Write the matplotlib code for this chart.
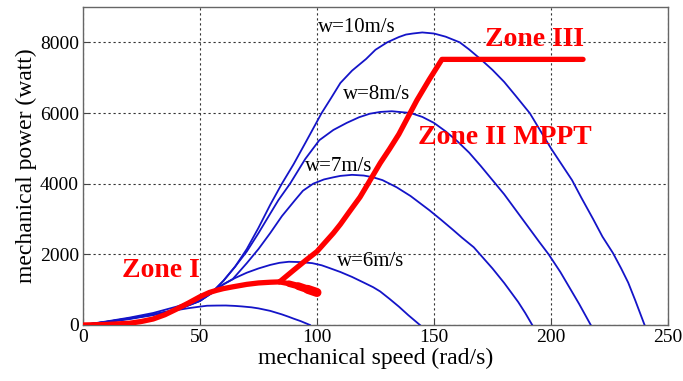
import matplotlib
matplotlib.use('Agg')
import matplotlib.pyplot as plt
import numpy as np
from matplotlib.collections import LineCollection

# 风速曲线数据 (rad/s, watt)
w5_x = [0, 10, 20, 30, 40, 45, 50, 53, 57, 61, 65, 68, 72, 75, 80, 83, 85, 88, 90, 93, 97]
w5_y = [0, 90, 190, 300, 420, 475, 520, 545, 550, 552, 540, 525, 500, 470, 400, 340, 300, 230, 180, 110, 0]

w6_x = [0, 10, 20, 30, 40, 45, 50, 55, 60, 65, 70, 75, 80, 84, 88, 93, 98, 102, 105, 110, 115, 120, 124, 127, 131,
        135, 139, 144]
w6_y = [0, 100, 210, 340, 520, 630, 760, 950, 1150, 1330, 1480, 1600, 1700, 1760, 1790, 1780, 1750, 1690, 1620, 1500,
        1360, 1200, 1070, 950, 740, 520, 280, 0]

w7_x = [0, 10, 20, 30, 40, 50, 55, 60, 64, 70, 75, 80, 85, 90.6, 94, 98.4, 103, 107, 110, 115, 120, 124, 128, 134,
        140, 144, 148, 153, 158, 162, 167, 171, 175, 180, 183, 186, 189, 192]
w7_y = [0, 90, 190, 300, 440, 690, 900, 1150, 1300, 1750, 2150, 2600, 3080, 3533, 3800, 4000, 4120, 4180, 4220, 4250,
        4230, 4180, 4100, 3900, 3650, 3450, 3250, 2980, 2700, 2470, 2200, 1900, 1600, 1190, 920, 650, 340, 0]

w8_x = [0, 10, 20, 30, 40, 50, 55, 60, 65, 70, 75, 80, 83.5, 88.5, 95, 101, 107, 112.7, 118, 122.6, 127, 132, 140,
        145, 150, 155, 160, 165, 170, 175, 180, 185, 190, 195, 199, 204, 208, 212, 217]
w8_y = [0, 85, 180, 290, 430, 680, 920, 1250, 1650, 2080, 2600, 3150, 3533, 4000, 4700, 5230, 5520, 5720, 5880, 5980,
        6030, 6050, 6000, 5890, 5720, 5480, 5200, 4880, 4500, 4100, 3700, 3250, 2800, 2350, 2000, 1500, 1050, 600, 0]

w10_x = [0, 10, 20, 30, 40, 50, 55, 60, 65, 70, 75, 80, 85, 90, 95, 102, 106, 110, 115, 121, 125, 130, 135, 138, 141,
         145, 150, 155, 161, 165, 170, 175, 180, 185, 191, 195, 200, 205, 209, 213, 218, 222, 226.5, 230, 233, 236, 240]
w10_y = [0, 80, 170, 280, 420, 680, 900, 1250, 1650, 2150, 2750, 3400, 4000, 4550, 5150, 6000, 6420, 6850, 7200, 7530,
         7790, 8000, 8150, 8220, 8250, 8280, 8250, 8160, 8000, 7800, 7520, 7220, 6880, 6480, 5990, 5550, 5000, 4500,
         4100, 3600, 3000, 2500, 2035, 1600, 1200, 700, 0]

# 红线：Zone I 与 Zone II/III
zone1_x = [0, 10, 20, 25, 30, 35, 40, 45, 50, 54, 57, 60, 64, 70, 75, 80, 84]
zone1_y = [0, 15, 50, 100, 170, 290, 450, 620, 800, 920, 980, 1030, 1080, 1150, 1190, 1210, 1220]
tail_x = [84, 88, 92, 96, 100]
tail_y = [1220, 1170, 1100, 1010, 920]
zone2_x = [84, 90, 95, 100, 107, 110, 114, 118.4, 122, 127, 131, 135, 139, 142.7, 148, 153.4, 213.7]
zone2_y = [1220, 1550, 1820, 2080, 2600, 2850, 3220, 3620, 4020, 4580, 4980, 5400, 5900, 6360, 6950, 7518, 7518]

plt.rcParams['font.family'] = ['Liberation Serif', 'DejaVu Serif']

fig = plt.figure(figsize=(6.83, 3.81), dpi=100)
ax = fig.add_axes([0.1215, 0.147, 0.8565, 0.8346])

blue = '#1414c8'
for xs, ys in [(w5_x, w5_y), (w6_x, w6_y), (w7_x, w7_y), (w8_x, w8_y), (w10_x, w10_y)]:
    ax.plot(xs, ys, color=blue, lw=1.3, zorder=3)

red = '#ff0000'
ax.plot(zone1_x, zone1_y, color=red, lw=3.8, solid_capstyle='butt', zorder=4)
ax.plot(zone2_x, zone2_y, color=red, lw=3.8, solid_capstyle='round', zorder=4)
# 尾部逐渐变粗
pts = np.column_stack([tail_x, tail_y]).reshape(-1, 1, 2)
segs = np.concatenate([pts[:-1], pts[1:]], axis=1)
lc = LineCollection(segs, colors=red, linewidths=np.linspace(3.8, 6.5, len(segs)), capstyle='round', zorder=4)
ax.add_collection(lc)

ax.set_xlim(0, 250)
ax.set_ylim(0, 9000)
ax.set_xticks([0, 50, 100, 150, 200, 250])
ax.set_yticks([0, 2000, 4000, 6000, 8000])
ax.grid(True, color='#333333', linestyle=(0, (2, 2.5)), linewidth=0.8)
ax.tick_params(direction='in', length=4, labelsize=14, color='#444444', pad=3)
for s in ax.spines.values():
    s.set_color('#666666')
    s.set_linewidth(1.0)

ax.set_xlabel('mechanical speed (rad/s)', fontsize=17, labelpad=1)
ax.set_ylabel('mechanical power (watt)', fontsize=17, labelpad=2)

# 文字标注
ax.text(100.4, 8420, 'w=10m/s', fontsize=15, va='center', zorder=5)
ax.text(111, 6529, 'w=8m/s', fontsize=15, va='center', zorder=5)
ax.text(94.9, 4494, 'w=7m/s', fontsize=15, va='center', zorder=5)
ax.text(108.5, 1809, 'w=6m/s', fontsize=15, va='center', zorder=5)

ax.text(171.8, 8084, 'Zone III', fontsize=20, fontweight='bold', color=red, va='center', zorder=5)
ax.text(143.2, 5314, 'Zone II MPPT', fontsize=20, fontweight='bold', color=red, va='center', zorder=5)
ax.text(16.7, 1555, 'Zone I', fontsize=20, fontweight='bold', color=red, va='center', zorder=5)

plt.savefig('out.png', dpi=100)
